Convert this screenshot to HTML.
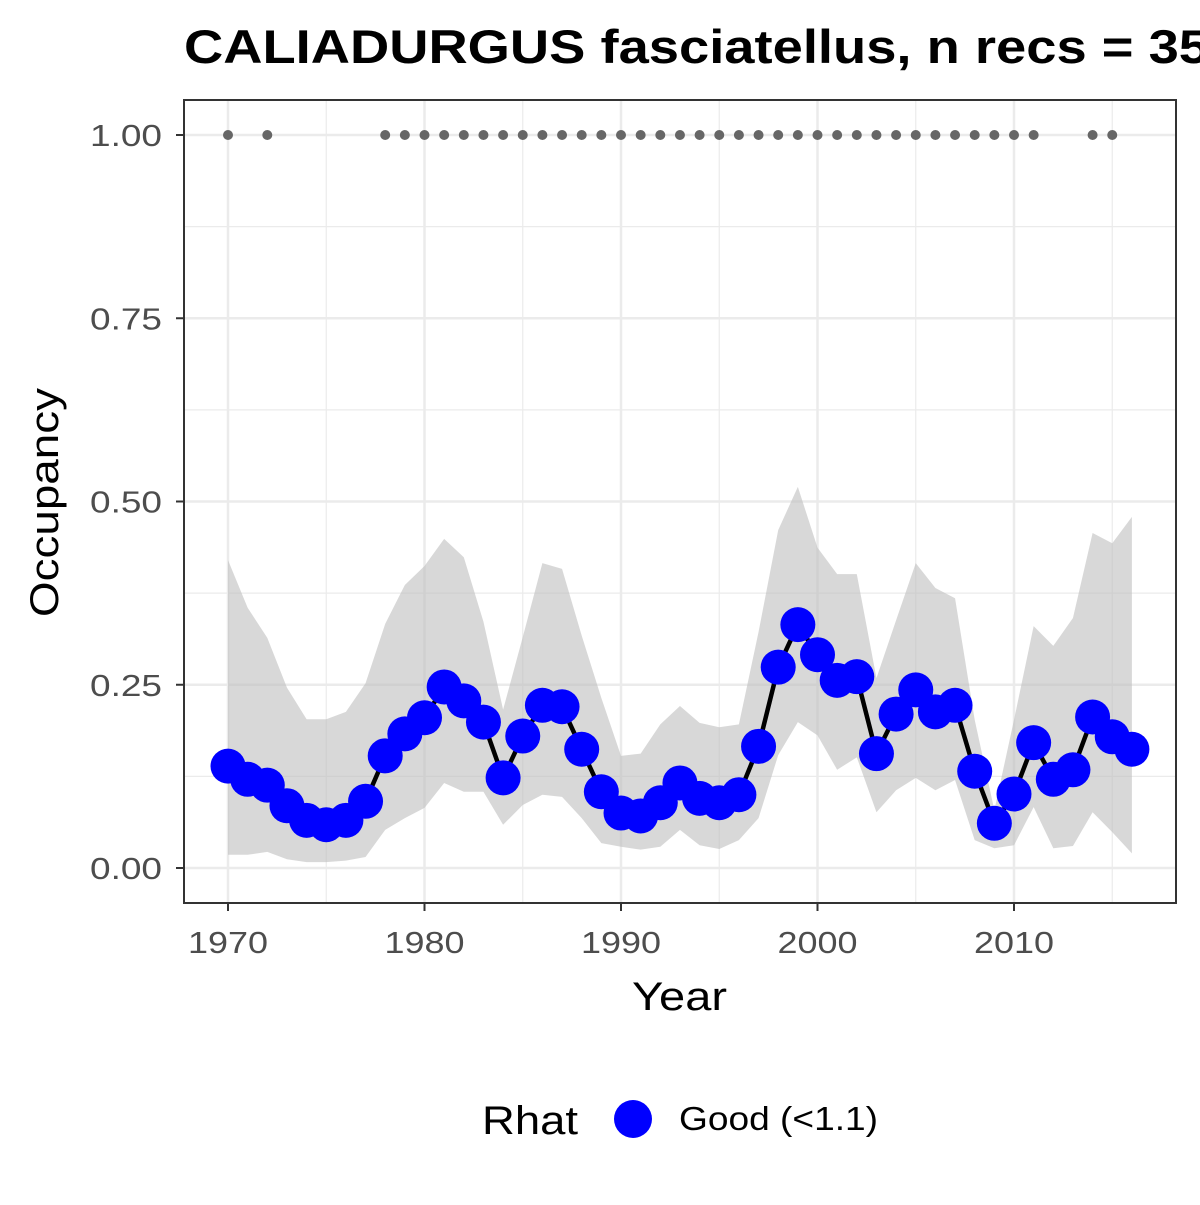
<!DOCTYPE html>
<html><head><meta charset="utf-8"><style>
body{margin:0;background:#fff;width:1200px;height:1200px;overflow:hidden}
svg text{font-family:"Liberation Sans",Arial,sans-serif}
</style></head><body>
<svg id="chart" width="1200" height="1200" xmlns="http://www.w3.org/2000/svg">
<rect width="1200" height="1200" fill="#fff"/>
<text x="184" y="63" font-size="47" font-weight="bold" fill="#000" textLength="1025" lengthAdjust="spacingAndGlyphs">CALIADURGUS fasciatellus, n recs = 35</text>
<g id="grid"></g>
<g id="band"></g>
<g id="series"></g>
<g id="recs"></g>
<rect x="184" y="100" width="992" height="803" fill="none" stroke="#333" stroke-width="2"/>
<g id="axes"></g>
<text x="632" y="1010" font-size="40" fill="#000" textLength="95" lengthAdjust="spacingAndGlyphs">Year</text>
<text transform="translate(58,617) rotate(-90)" font-size="40" fill="#000" textLength="229" lengthAdjust="spacingAndGlyphs">Occupancy</text>
<g>
<text x="482" y="1134" font-size="40" fill="#000" textLength="96" lengthAdjust="spacingAndGlyphs">Rhat</text>
<circle cx="633" cy="1119" r="19" fill="#0000ff"/>
<text x="679" y="1130" font-size="33" fill="#000" textLength="199" lengthAdjust="spacingAndGlyphs">Good (&lt;1.1)</text>
</g>
</svg>
<script>
const years=[1970,1971,1972,1973,1974,1975,1976,1977,1978,1979,1980,1981,1982,1983,1984,1985,1986,1987,1988,1989,1990,1991,1992,1993,1994,1995,1996,1997,1998,1999,2000,2001,2002,2003,2004,2005,2006,2007,2008,2009,2010,2011,2012,2013,2014,2015,2016];
const occupancy=[0.139,0.121,0.113,0.085,0.065,0.059,0.065,0.091,0.153,0.183,0.205,0.247,0.228,0.199,0.123,0.180,0.222,0.220,0.162,0.104,0.075,0.071,0.089,0.116,0.095,0.089,0.100,0.166,0.274,0.332,0.291,0.256,0.261,0.156,0.210,0.243,0.213,0.222,0.132,0.061,0.101,0.171,0.121,0.134,0.206,0.179,0.162];
const upper=[0.42,0.355,0.314,0.246,0.203,0.203,0.213,0.252,0.333,0.386,0.412,0.449,0.424,0.336,0.216,0.315,0.416,0.408,0.317,0.232,0.153,0.156,0.196,0.221,0.198,0.192,0.196,0.322,0.461,0.52,0.437,0.401,0.401,0.259,0.338,0.416,0.382,0.368,0.202,0.079,0.202,0.33,0.303,0.341,0.457,0.443,0.479];
const lower=[0.018,0.018,0.022,0.012,0.008,0.008,0.01,0.015,0.052,0.068,0.082,0.116,0.104,0.104,0.059,0.086,0.1,0.097,0.068,0.034,0.029,0.025,0.029,0.052,0.031,0.026,0.038,0.068,0.154,0.199,0.181,0.134,0.151,0.076,0.106,0.123,0.106,0.12,0.038,0.027,0.031,0.083,0.027,0.03,0.076,0.049,0.02];
const recYears=[1970,1972,1978,1979,1980,1981,1982,1983,1984,1985,1986,1987,1988,1989,1990,1991,1992,1993,1994,1995,1996,1997,1998,1999,2000,2001,2002,2003,2004,2005,2006,2007,2008,2009,2010,2011,2014,2015];
const xTicks=[1970,1980,1990,2000,2010];
const yTicks=[0,0.25,0.5,0.75,1];
const yTickLabels=["0.00","0.25","0.50","0.75","1.00"];
const NS="http://www.w3.org/2000/svg";
const X=y=>228+(y-1970)*(1014-228)/40;
const Y=v=>868-v*733;
function mk(tag,attrs,parent){const e=document.createElementNS(NS,tag);for(const k in attrs)e.setAttribute(k,attrs[k]);document.getElementById(parent).appendChild(e);return e;}
[0.125,0.375,0.625,0.875].forEach(v=>{const e=mk('line',{x1:184,x2:1176,y1:Y(v),y2:Y(v),stroke:'#ebebeb','stroke-width':1.2},'grid');

});
[1975,1985,1995,2005,2015].forEach(v=>{const e=mk('line',{x1:X(v),x2:X(v),y1:100,y2:903,stroke:'#ebebeb','stroke-width':1.2},'grid');

});
yTicks.forEach(v=>{const e=mk('line',{x1:184,x2:1176,y1:Y(v),y2:Y(v),stroke:'#ebebeb','stroke-width':2.5},'grid');

});
xTicks.forEach(v=>{const e=mk('line',{x1:X(v),x2:X(v),y1:100,y2:903,stroke:'#ebebeb','stroke-width':2.5},'grid');

});
let d='M'+years.map((y,i)=>X(y)+','+Y(upper[i])).join('L');
for(let i=years.length-1;i>=0;i--)d+='L'+X(years[i])+','+Y(lower[i]);
const band=mk('path',{d:d+'Z',fill:'#bebebe','fill-opacity':0.6},'band');


const ln=mk('polyline',{points:years.map((y,i)=>X(y)+','+Y(occupancy[i])).join(' '),fill:'none',stroke:'#000','stroke-width':4.5},'series');


years.forEach((y,i)=>{const c=mk('circle',{cx:X(y),cy:Y(occupancy[i]),r:17.5,fill:'#0000ff'},'series');

});
recYears.forEach(y=>{const c=mk('circle',{cx:X(y),cy:Y(1),r:5,fill:'#666'},'recs');

});
yTicks.forEach((v,i)=>{mk('line',{x1:176,x2:184,y1:Y(v),y2:Y(v),stroke:'#333','stroke-width':2},'axes');
const t=mk('text',{x:90,y:Y(v)+11,'font-size':31,fill:'#4d4d4d',textLength:72,lengthAdjust:'spacingAndGlyphs'},'axes');t.textContent=yTickLabels[i];

});
xTicks.forEach(v=>{mk('line',{x1:X(v),x2:X(v),y1:903,y2:911,stroke:'#333','stroke-width':2},'axes');
const t=mk('text',{x:X(v)-40,y:953,'font-size':31,fill:'#4d4d4d',textLength:80,lengthAdjust:'spacingAndGlyphs'},'axes');t.textContent=v;

});
</script>
</body></html>
